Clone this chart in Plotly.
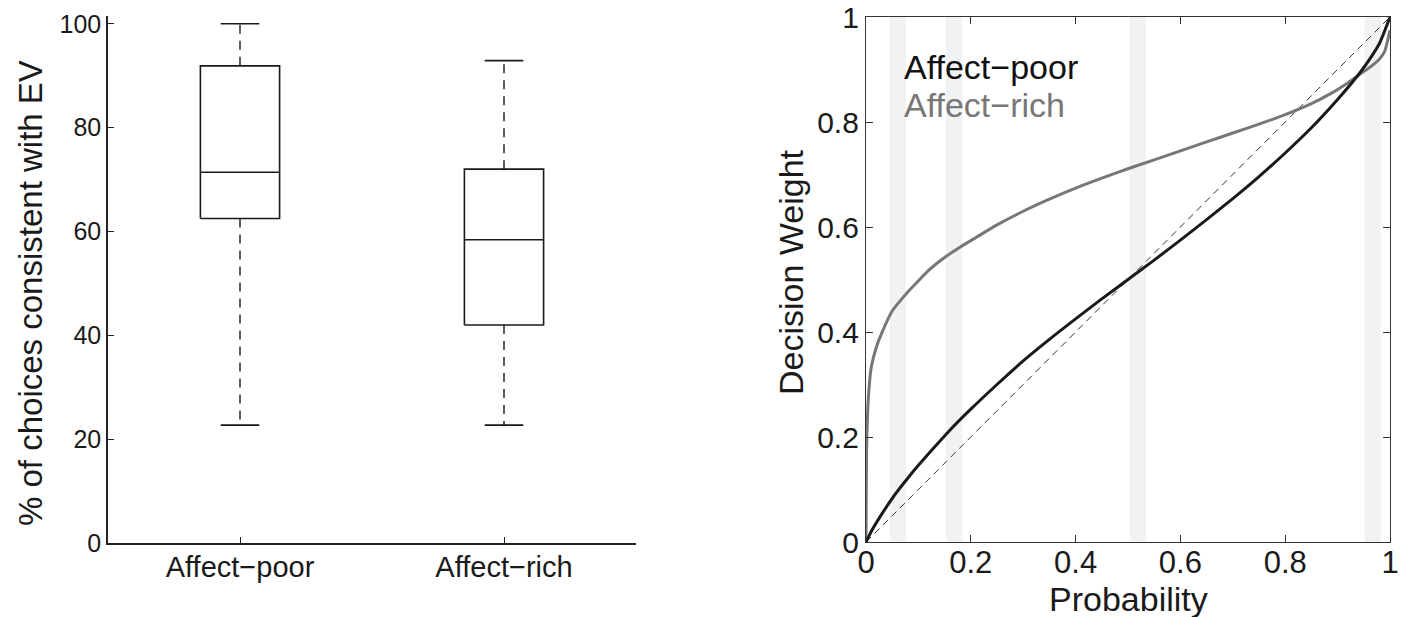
import plotly.graph_objects as go

W, H = 1403, 617

# ---------------- Left panel data (box plot summary) ----------------
categories = ["Affect\u2212poor", "Affect\u2212rich"]
whisker_low = [22.7, 22.7]
q1 = [62.5, 42.0]
median = [71.4, 58.4]
q3 = [91.9, 72.0]
whisker_high = [100.0, 92.9]

# ---------------- Right panel data (weighting functions) ----------------
prob_poor = [0, 0.01, 0.03, 0.055, 0.08, 0.1, 0.13, 0.16, 0.2, 0.25, 0.3, 0.35, 0.4, 0.45,
             0.5, 0.55, 0.6, 0.65, 0.7, 0.75, 0.8, 0.85, 0.9, 0.93, 0.96, 0.98, 1.0]
weight_poor = [0, 0.02, 0.053, 0.09, 0.122, 0.146, 0.18, 0.213, 0.253, 0.30, 0.345, 0.386, 0.425, 0.463,
               0.500, 0.537, 0.575, 0.614, 0.654, 0.696, 0.741, 0.789, 0.843, 0.878, 0.918, 0.950, 1.0]

prob_rich = [0, 0.001, 0.003, 0.006, 0.01, 0.02, 0.03, 0.05, 0.07, 0.09, 0.12, 0.15, 0.18, 0.21,
             0.25, 0.3, 0.35, 0.4, 0.45, 0.5, 0.55, 0.6, 0.65, 0.7, 0.75, 0.8, 0.85, 0.89, 0.92,
             0.94, 0.96, 0.98, 0.99, 1.0]
weight_rich = [0, 0.17, 0.245, 0.295, 0.333, 0.372, 0.398, 0.44, 0.465, 0.487, 0.518, 0.542, 0.562, 0.58,
               0.604, 0.630, 0.653, 0.674, 0.693, 0.711, 0.728, 0.745, 0.762, 0.779, 0.796, 0.814, 0.835,
               0.856, 0.875, 0.889, 0.903, 0.920, 0.935, 0.975]

diag = [0, 1]
band_centers = [0.061, 0.168, 0.519, 0.967]
band_width = 0.031

FONT = "Liberation Sans, Arial, Helvetica, sans-serif"
INK = "#1a1a1a"

fig = go.Figure()

# ---------------- Box plot drawn from summary arrays ----------------
box_half = 0.15
cap_half = 0.073
for i, cat in enumerate(categories):
    xc = i + 1
    fig.add_trace(go.Scatter(
        x=[xc - box_half, xc + box_half, xc + box_half, xc - box_half, xc - box_half],
        y=[q1[i], q1[i], q3[i], q3[i], q1[i]],
        mode="lines", line=dict(color=INK, width=1.6),
        xaxis="x", yaxis="y", showlegend=False, hoverinfo="skip"))
    fig.add_trace(go.Scatter(
        x=[xc - box_half, xc + box_half], y=[median[i], median[i]],
        mode="lines", line=dict(color=INK, width=1.6),
        xaxis="x", yaxis="y", showlegend=False, hoverinfo="skip"))
    fig.add_trace(go.Scatter(
        x=[xc, xc], y=[q3[i], whisker_high[i]],
        mode="lines", line=dict(color=INK, width=1.4, dash="9px,7px"),
        xaxis="x", yaxis="y", showlegend=False, hoverinfo="skip"))
    fig.add_trace(go.Scatter(
        x=[xc, xc], y=[q1[i], whisker_low[i]],
        mode="lines", line=dict(color=INK, width=1.4, dash="9px,7px"),
        xaxis="x", yaxis="y", showlegend=False, hoverinfo="skip"))
    for v in (whisker_high[i], whisker_low[i]):
        fig.add_trace(go.Scatter(
            x=[xc - cap_half, xc + cap_half], y=[v, v],
            mode="lines", line=dict(color=INK, width=1.6),
            xaxis="x", yaxis="y", showlegend=False, hoverinfo="skip"))

# ---------------- Right panel ----------------
for c in band_centers:
    fig.add_shape(type="rect", xref="x2", yref="y2",
                  x0=c - band_width / 2, x1=c + band_width / 2, y0=0, y1=1,
                  fillcolor="#f1f2f4", line=dict(width=0), layer="below")

fig.add_trace(go.Scatter(x=diag, y=diag, mode="lines",
                         line=dict(color="#333333", width=1, dash="7px,5px"),
                         xaxis="x2", yaxis="y2", showlegend=False, hoverinfo="skip"))
fig.add_trace(go.Scatter(x=prob_rich, y=weight_rich, mode="lines",
                         line=dict(color="#777777", width=3, shape="spline", smoothing=0.6),
                         xaxis="x2", yaxis="y2", showlegend=False, name="Affect-rich"))
fig.add_trace(go.Scatter(x=prob_poor, y=weight_poor, mode="lines",
                         line=dict(color=INK, width=3, shape="spline", smoothing=0.6),
                         xaxis="x2", yaxis="y2", showlegend=False, name="Affect-poor"))

fig.add_annotation(x=0.068, y=0.905, xref="x2", yref="y2", text="Affect\u2212poor",
                   showarrow=False, xanchor="left", yanchor="middle",
                   font=dict(family=FONT, size=34, color="#111111"))
fig.add_annotation(x=0.068, y=0.833, xref="x2", yref="y2", text="Affect\u2212rich",
                   showarrow=False, xanchor="left", yanchor="middle",
                   font=dict(family=FONT, size=34, color="#777777"))


def py(px):
    return (H - px) / H


def pxx(px):
    return px / W


# axis titles placed as text
fig.add_annotation(x=pxx(30), y=py(293), xref="paper", yref="paper",
                   text="% of choices consistent with EV", textangle=-90, showarrow=False,
                   xanchor="center", yanchor="middle",
                   font=dict(family=FONT, size=33, color=INK))
fig.add_annotation(x=pxx(791), y=py(272), xref="paper", yref="paper",
                   text="Decision Weight", textangle=-90, showarrow=False,
                   xanchor="center", yanchor="middle",
                   font=dict(family=FONT, size=34, color=INK))
fig.add_annotation(x=pxx(1128), y=py(599), xref="paper", yref="paper",
                   text="Probability", showarrow=False,
                   xanchor="center", yanchor="middle",
                   font=dict(family=FONT, size=34, color=INK))

fig.update_layout(
    width=W, height=H,
    margin=dict(l=0, r=0, t=0, b=0, autoexpand=False),
    paper_bgcolor="white", plot_bgcolor="white",
    font=dict(family=FONT, color=INK),
    xaxis=dict(domain=[pxx(108), pxx(636)], range=[0.5, 2.5], automargin=False,
               tickvals=[1, 2], ticktext=categories,
               ticks="inside", ticklen=6, tickcolor="#222",
               ticklabelstandoff=-3,
               showline=True, linecolor="#222", linewidth=1.5,
               showgrid=False, zeroline=False,
               tickfont=dict(size=29, family=FONT, color=INK)),
    yaxis=dict(domain=[py(543), py(16)], range=[0, 101.5], automargin=False,
               tickvals=[0, 20, 40, 60, 80, 100], ticklabeloverflow="allow",
               ticks="inside", ticklen=6, tickcolor="#222",
               showline=True, linecolor="#222", linewidth=1.5,
               showgrid=False, zeroline=False,
               tickfont=dict(size=25, family=FONT, color=INK)),
    xaxis2=dict(domain=[pxx(866), pxx(1390)], range=[0, 1], anchor="y2", automargin=False,
                tickvals=[0, 0.2, 0.4, 0.6, 0.8, 1], ticktext=["0", "0.2", "0.4", "0.6", "0.8", "1"],
                ticks="inside", ticklen=7, tickcolor="#333", ticklabeloverflow="allow",
                ticklabelstandoff=-7,
                showline=True, mirror="ticks", linecolor="#333", linewidth=1.2,
                showgrid=False, zeroline=False,
                tickfont=dict(size=31, family=FONT, color=INK)),
    yaxis2=dict(domain=[py(542), py(17)], range=[0, 1], anchor="x2", automargin=False,
                tickvals=[0, 0.2, 0.4, 0.6, 0.8, 1], ticktext=["0", "0.2", "0.4", "0.6", "0.8", "1"],
                ticks="inside", ticklen=7, tickcolor="#333", ticklabeloverflow="allow",
                showline=True, mirror="ticks", linecolor="#333", linewidth=1.2,
                showgrid=False, zeroline=False,
                tickfont=dict(size=30, family=FONT, color=INK)),
)

fig.write_html("out.html")
